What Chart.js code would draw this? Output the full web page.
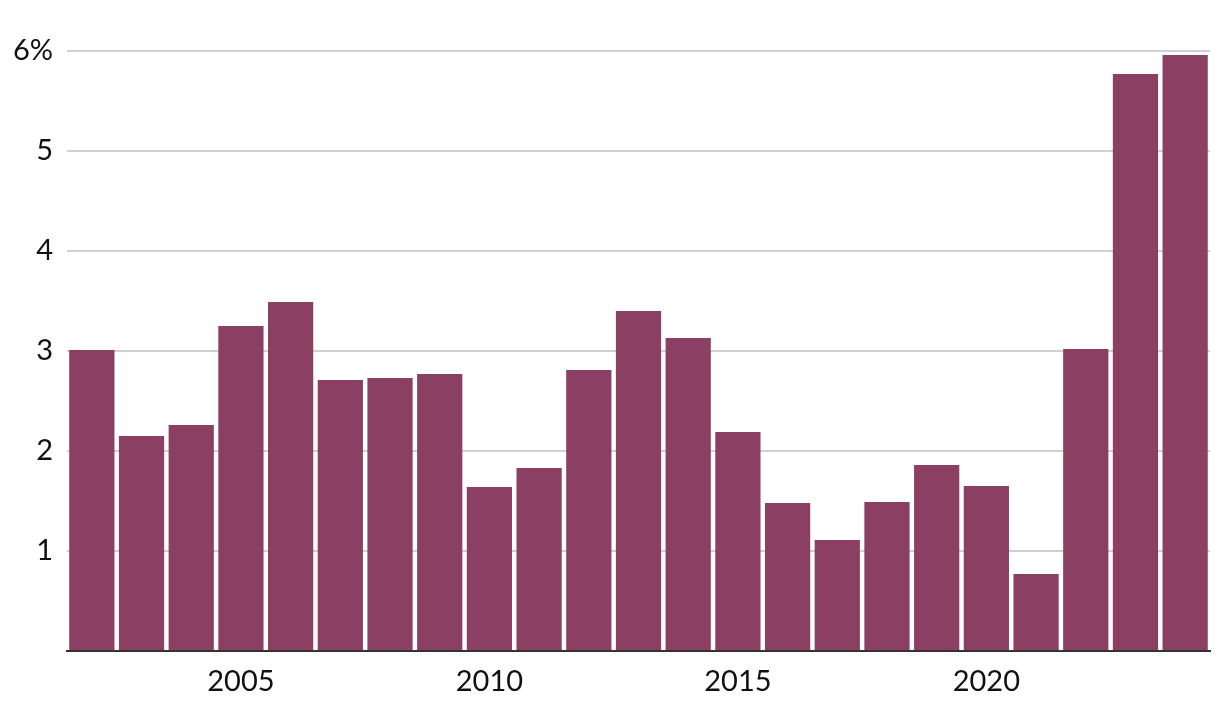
<!DOCTYPE html>
<html>
<head>
<meta charset="utf-8">
<script src="https://cdn.jsdelivr.net/npm/chart.js@4/dist/chart.umd.min.js"></script>
<style>
html,body{margin:0;padding:0;background:#fff;}
#wrap{width:1220px;height:714px;position:relative;}
</style>
</head>
<body>
<div id="wrap"><canvas id="c" width="1220" height="714"></canvas></div>
<script>
const years = [2002,2003,2004,2005,2006,2007,2008,2009,2010,2011,2012,2013,2014,2015,2016,2017,2018,2019,2020,2021,2022,2023,2024];
const values = [3.01,2.15,2.26,3.25,3.49,2.71,2.73,2.77,1.64,1.83,2.81,3.40,3.13,2.19,1.48,1.11,1.49,1.86,1.65,0.77,3.02,5.77,5.96];
const xTickYears = [2005,2010,2015,2020];
const yTicks = [1,2,3,4,5,6];

new Chart(document.getElementById('c'), {
  type: 'bar',
  data: {
    labels: years.map(String),
    datasets: [{
      data: values,
      backgroundColor: '#8b3f62',
      borderWidth: 0,
      barPercentage: 0.91,
      categoryPercentage: 1.0
    }]
  },
  options: {
    responsive: false,
    animation: false,
    layout: { padding: { top: 51, right: 10, left: 0, bottom: 0 } },
    plugins: { legend: { display: false }, tooltip: { enabled: false } },
    scales: {
      x: {
        grid: { display: false, drawTicks: false },
        border: { display: true, color: '#333333', width: 2 },
        ticks: {
          autoSkip: false,
          maxRotation: 0,
          padding: 13,
          color: '#111111',
          font: { family: 'Lato', size: 29 },
          callback: function(v, i) { return xTickYears.includes(years[i]) ? String(years[i]) : ''; }
        },
        afterFit: function(s) { s.height = 63; }
      },
      y: {
        min: 0, max: 6,
        grid: { color: '#d0d0d0', lineWidth: 2, drawTicks: false },
        border: { display: false },
        ticks: {
          stepSize: 1,
          padding: 14,
          color: '#111111',
          font: { family: 'Lato', size: 29 },
          callback: function(v) {
            if (!yTicks.includes(v)) return '';
            return v === 6 ? v + '%' : String(v);
          }
        },
        afterFit: function(s) { s.width = 67; }
      }
    }
  }
});
</script>
</body>
</html>
